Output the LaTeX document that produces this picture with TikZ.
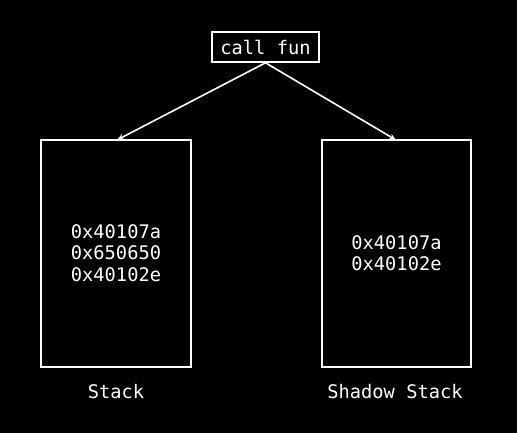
\documentclass[tikz,border=0pt]{standalone}
\usepackage{fontspec}
\setmonofont{DejaVu Sans Mono}
\usetikzlibrary{arrows.meta}
\begin{document}
\begin{tikzpicture}[x=1pt,y=-1pt,
  every node/.style={text=white,font=\ttfamily\fontsize{18.7}{21.5}\selectfont},
  box/.style={draw=white,line width=1.6pt,inner sep=0pt},
  conn/.style={draw=white,line width=1.6pt,-{Stealth[length=7pt,width=6pt]}}]
\fill[black] (0,0) rectangle (517,433);
\useasboundingbox (0,0) rectangle (517,433);
\node[box,minimum width=107pt,minimum height=30pt] (call) at (265.5,47) {call fun};
\node[box,minimum width=150pt,minimum height=227pt] (stack) at (116,253.5) {};
\node[box,minimum width=149pt,minimum height=227pt] (shadow) at (396.5,253.5) {};
\node[align=center] (stxt) at (116,253) {0x40107a\\0x650650\\0x40102e};
\node[align=center] (shtxt) at (396.5,253) {0x40107a\\0x40102e};
\node (stlab) at (116,392) {Stack};
\node (shlab) at (395,392) {Shadow Stack};
\coordinate (a1) at (117,140);
\coordinate (a2) at (396,140);
\draw[conn] (call.south) -- (a1);
\draw[conn] (call.south) -- (a2);
\end{tikzpicture}
\end{document}
